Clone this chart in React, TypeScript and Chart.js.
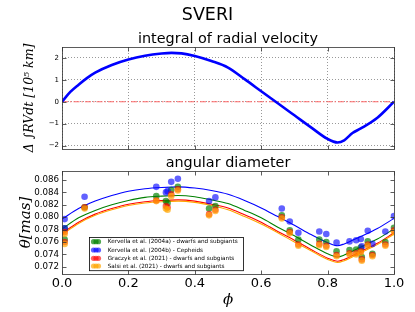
import React, { useEffect, useRef } from "react";
import { Chart, registerables } from "chart.js";
Chart.register(...registerables);

// ---- integral of radial velocity (top panel) ----
const integPhase = [0, 0.025, 0.05, 0.075, 0.1, 0.15, 0.2, 0.25, 0.3, 0.33, 0.36, 0.4, 0.45, 0.5, 0.55, 0.6, 0.65, 0.7, 0.75, 0.8, 0.83, 0.85, 0.875, 0.9, 0.95, 1.0];
const integValue = [0, 0.45, 0.78, 1.08, 1.33, 1.68, 1.93, 2.10, 2.20, 2.23, 2.21, 2.09, 1.86, 1.56, 1.03, 0.48, -0.07, -0.62, -1.17, -1.70, -1.86, -1.76, -1.43, -1.22, -0.73, 0];
const topYTicks = [-2, -1, 0, 1, 2];
const topYTickLabels = ["\u22122", "\u22121", "0", "1", "2"];
const phaseTicks = [0, 0.2, 0.4, 0.6, 0.8, 1.0];
const phaseTickLabels = ["0.0", "0.2", "0.4", "0.6", "0.8", "1.0"];

// ---- angular diameter (bottom panel) ----
const obsPhase = [0.008, 0.008, 0.068, 0.284, 0.313, 0.318, 0.329, 0.349, 0.443, 0.462, 0.662, 0.686, 0.712, 0.775, 0.796, 0.827, 0.866, 0.886, 0.900, 0.903, 0.921, 0.935, 0.974, 1.0];
const kervellaA = [0.0782, 0.0764, 0.0816, 0.0834, 0.0826, 0.0823, 0.0844, 0.0849, 0.0814, 0.0818, 0.0803, 0.0779, 0.0764, 0.0764, 0.0760, 0.0745, 0.0747, 0.0748, 0.0751, 0.0736, 0.0761, 0.0741, 0.0760, 0.0783];
const kervellaB = [0.0797, 0.0782, 0.0833, 0.0849, 0.0840, 0.0842, 0.0857, 0.0862, 0.0826, 0.0832, 0.0814, 0.0793, 0.0775, 0.0777, 0.0773, 0.0759, 0.0761, 0.0763, 0.0765, 0.0753, 0.0778, 0.0757, 0.0777, 0.0802];
const graczyk = [0.0776, 0.0760, 0.0816, 0.0827, 0.0818, 0.0816, 0.0837, 0.0845, 0.0805, 0.0812, 0.0800, 0.0776, 0.0756, 0.0757, 0.0754, 0.0739, 0.0742, 0.0742, 0.0745, 0.0732, 0.0756, 0.0739, 0.0756, 0.0779];
const salsi = [0.0773, 0.0757, 0.0814, 0.0826, 0.0814, 0.0812, 0.0834, 0.0843, 0.0803, 0.0810, 0.0798, 0.0774, 0.0754, 0.0755, 0.0752, 0.0737, 0.0740, 0.0740, 0.0743, 0.0730, 0.0754, 0.0737, 0.0754, 0.0776];

const fitPhase = [0, 0.05, 0.1, 0.15, 0.2, 0.25, 0.3, 0.35, 0.4, 0.45, 0.5, 0.55, 0.6, 0.65, 0.7, 0.75, 0.8, 0.83, 0.85, 0.9, 0.95, 1.0];
const fitKervellaB = [0.0797, 0.0814, 0.0826, 0.0835, 0.0842, 0.0846, 0.0848, 0.0849, 0.0847, 0.0843, 0.0837, 0.0827, 0.0815, 0.0801, 0.0787, 0.0772, 0.0759, 0.0754, 0.0757, 0.0769, 0.0782, 0.0798];
const fitKervellaA = [0.0781, 0.0799, 0.0811, 0.0820, 0.0827, 0.0832, 0.0834, 0.0835, 0.0833, 0.0828, 0.0822, 0.0811, 0.0799, 0.0784, 0.0770, 0.0755, 0.0741, 0.0736, 0.0739, 0.0752, 0.0765, 0.0781];
const fitGraczyk = [0.0774, 0.0792, 0.0805, 0.0814, 0.0821, 0.0825, 0.0827, 0.0828, 0.0826, 0.0821, 0.0815, 0.0804, 0.0792, 0.0777, 0.0763, 0.0748, 0.0734, 0.0729, 0.0732, 0.0745, 0.0758, 0.0775];
const fitSalsi = [0.0772, 0.0790, 0.0803, 0.0812, 0.0819, 0.0823, 0.0825, 0.0826, 0.0824, 0.0819, 0.0812, 0.0801, 0.0789, 0.0775, 0.0760, 0.0746, 0.0732, 0.0727, 0.0730, 0.0743, 0.0756, 0.0773];

const botYTicks = [0.072, 0.074, 0.076, 0.078, 0.08, 0.082, 0.084, 0.086];
const botYTickLabels = ["0.072", "0.074", "0.076", "0.078", "0.080", "0.082", "0.084", "0.086"];

const seriesNames = [
  "Kervella et al. (2004a) - dwarfs and subgiants",
  "Kervella et al. (2004b) - Cepheids",
  "Graczyk et al. (2021) - dwarfs and subgiants",
  "Salsi et al. (2021) - dwarfs and subgiants",
];
const pointColors = ["rgba(0,128,0,0.68)", "rgba(0,0,255,0.62)", "rgba(255,0,0,0.62)", "rgba(255,165,0,0.68)"];
const lineColors = ["#008000", "#0000ff", "#ff0000", "#ffa500"];

const SANS = '"DejaVu Sans", sans-serif';
const SERIF = '"DejaVu Serif", serif';

const toXY = (xs: number[], ys: number[]) => xs.map((x, i) => ({ x, y: ys[i] }));

const framePlugin = {
  id: "frame",
  afterDatasetsDraw(chart: any) {
    const { ctx, chartArea: a } = chart;
    ctx.save();
    ctx.strokeStyle = "#333";
    ctx.lineWidth = 0.8;
    const L = Math.round(a.left) + 0.5, R = Math.round(a.right) + 0.5;
    const T = Math.round(a.top) + 0.5, B = Math.round(a.bottom) + 0.5;
    ctx.strokeRect(L, T, R - L, B - T);
    const tl = 4;
    ctx.beginPath();
    chart.scales.x.ticks.forEach((t: any) => {
      const px = Math.round(chart.scales.x.getPixelForValue(t.value)) + 0.5;
      ctx.moveTo(px, B); ctx.lineTo(px, B - tl);
      ctx.moveTo(px, T); ctx.lineTo(px, T + tl);
    });
    chart.scales.y.ticks.forEach((t: any) => {
      const py = Math.round(chart.scales.y.getPixelForValue(t.value)) + 0.5;
      ctx.moveTo(L, py); ctx.lineTo(L + tl, py);
      ctx.moveTo(R, py); ctx.lineTo(R - tl, py);
    });
    ctx.stroke();
    ctx.restore();
  },
};

const makeTextPlugin = (items: { text: string; x: number; y: number; size: number }[]) => ({
  id: "texts",
  afterDraw(chart: any) {
    const { ctx } = chart;
    ctx.save();
    ctx.fillStyle = "#000";
    ctx.textAlign = "center";
    ctx.textBaseline = "alphabetic";
    items.forEach((it) => {
      ctx.font = `${it.size}px ${SANS}`;
      ctx.fillText(it.text, it.x, it.y);
    });
    ctx.restore();
  },
});

const legendPlugin = {
  id: "customLegend",
  afterDraw(chart: any) {
    const { ctx } = chart;
    ctx.save();
    const bx = 89.5, by = 81.5, bw = 154, bh = 33.2;
    ctx.fillStyle = "#fff";
    ctx.fillRect(bx, by, bw, bh);
    ctx.strokeStyle = "#000";
    ctx.lineWidth = 0.8;
    ctx.strokeRect(bx, by, bw, bh);
    const rows = [85.7, 94, 102.3, 110];
    seriesNames.forEach((name, i) => {
      const cy = rows[i];
      ctx.fillStyle = pointColors[i];
      [93.5, 96, 98.5].forEach((cx) => {
        ctx.beginPath();
        ctx.arc(cx, cy, 2.6, 0, Math.PI * 2);
        ctx.fill();
      });
      ctx.fillStyle = "#000";
      ctx.font = `5.7px ${SANS}`;
      ctx.textAlign = "left";
      ctx.textBaseline = "middle";
      ctx.fillText(name, 107.7, cy + 0.3);
    });
    ctx.restore();
  },
};

export default function App() {
  const topRef = useRef<HTMLCanvasElement>(null);
  const botRef = useRef<HTMLCanvasElement>(null);

  useEffect(() => {
    Chart.defaults.font.family = SANS;
    const top = new Chart(topRef.current!, {
      type: "scatter",
      data: {
        datasets: [
          {
            data: toXY(integPhase, integValue),
            showLine: true,
            borderColor: "#0000ff",
            borderWidth: 2.6,
            pointRadius: 0,
            cubicInterpolationMode: "monotone",
            order: 1,
          } as any,
          {
            data: [{ x: 0, y: 0 }, { x: 1, y: 0 }],
            showLine: true,
            borderColor: "#ff6a6a",
            borderWidth: 1.1,
            borderDash: [6, 2, 1.5, 2],
            pointRadius: 0,
            order: 2,
          } as any,
        ],
      },
      options: {
        responsive: false,
        animation: false,
        devicePixelRatio: 1,
        layout: { padding: { top: 47, right: 21, bottom: 6, left: 0 } },
        plugins: { legend: { display: false }, tooltip: { enabled: false }, title: { display: false } },
        scales: {
          x: {
            type: "linear",
            min: 0,
            max: 1,
            afterBuildTicks: (s: any) => { s.ticks = phaseTicks.map((v) => ({ value: v })); },
            afterFit: (s: any) => { s.height = 0; },
            ticks: { display: false },
            grid: { color: "rgba(0,0,0,0.5)", lineWidth: 0.8, drawTicks: false },
            border: { display: false, dash: [1, 2] },
          },
          y: {
            min: -2.15,
            max: 2.5,
            afterBuildTicks: (s: any) => { s.ticks = topYTicks.map((v) => ({ value: v })); },
            afterFit: (s: any) => { s.width = 62; },
            ticks: {
              font: { size: 7, family: SANS },
              color: "#000",
              padding: 3,
              callback: (v: any) => topYTickLabels[topYTicks.indexOf(v)],
            },
            grid: { color: "rgba(0,0,0,0.5)", lineWidth: 0.8, drawTicks: false },
            border: { display: false, dash: [1, 2] },
            title: {
              display: true,
              text: "\u0394 \u222BRVdt [10\u2075 km]",
              color: "#000",
              font: { family: SERIF, style: "italic", size: 12.5, lineHeight: 1 },
              padding: { top: 23.7, bottom: 0 },
            },
          },
        },
      },
      plugins: [
        framePlugin,
        makeTextPlugin([
          { text: "SVERI", x: 207.5, y: 20, size: 17.5 },
          { text: "integral of radial velocity", x: 228, y: 43, size: 14.4 },
        ]),
      ],
    });

    const pts = [kervellaA, kervellaB, graczyk, salsi];
    const fits = [fitKervellaA, fitKervellaB, fitGraczyk, fitSalsi];
    const datasets: any[] = [];
    pts.forEach((p, i) => {
      datasets.push({
        data: toXY(obsPhase, p),
        pointRadius: 3.3,
        pointBackgroundColor: pointColors[i],
        pointBorderWidth: 0,
        borderColor: pointColors[i],
        showLine: false,
        order: 8 - i,
      });
    });
    fits.forEach((f, i) => {
      datasets.push({
        data: toXY(fitPhase, f),
        showLine: true,
        borderColor: lineColors[i],
        borderWidth: 1.1,
        pointRadius: 0,
        cubicInterpolationMode: "monotone",
        order: 20 - i,
      });
    });

    const bot = new Chart(botRef.current!, {
      type: "scatter",
      data: { datasets },
      options: {
        responsive: false,
        animation: false,
        devicePixelRatio: 1,
        layout: { padding: { top: 14.7, right: 21, bottom: 0, left: 0 } },
        plugins: { legend: { display: false }, tooltip: { enabled: false }, title: { display: false } },
        scales: {
          x: {
            type: "linear",
            min: 0,
            max: 1,
            afterBuildTicks: (s: any) => { s.ticks = phaseTicks.map((v) => ({ value: v })); },
            afterFit: (s: any) => { s.height = 37.7; },
            ticks: {
              font: { size: 13, family: SANS },
              color: "#000",
              padding: 2,
              autoSkip: false,
              maxRotation: 0,
              callback: (v: any) => phaseTickLabels[phaseTicks.indexOf(v)],
            },
            grid: { display: false, drawTicks: false },
            border: { display: false },
            title: {
              display: true,
              text: "\u03D5",
              color: "#000",
              font: { family: SERIF, style: "italic", size: 15, lineHeight: 1 },
              padding: { top: 0, bottom: 4.5 },
            },
          },
          y: {
            min: 0.0708,
            max: 0.0875,
            afterBuildTicks: (s: any) => { s.ticks = botYTicks.map((v) => ({ value: v })); },
            afterFit: (s: any) => { s.width = 62; },
            ticks: {
              font: { size: 8.7, family: SANS },
              color: "#000",
              padding: 3,
              autoSkip: false,
              callback: (v: any) => botYTickLabels[botYTicks.indexOf(v)],
            },
            grid: { display: false, drawTicks: false },
            border: { display: false },
            title: {
              display: true,
              text: "\u03B8[mas]",
              color: "#000",
              font: { family: SERIF, style: "italic", size: 15, lineHeight: 1 },
              padding: { top: 18.7, bottom: 0 },
            },
          },
        },
      },
      plugins: [framePlugin, legendPlugin, makeTextPlugin([{ text: "angular diameter", x: 228, y: 11.3, size: 14.4 }])],
    });

    return () => {
      top.destroy();
      bot.destroy();
    };
  }, []);

  return (
    <div style={{ position: "fixed", left: 0, top: 0, width: 415, height: 312, background: "#fff" }}>
      <canvas ref={topRef} width={415} height={156} style={{ position: "absolute", left: 0, top: 0, width: 415, height: 156 }} />
      <canvas ref={botRef} width={415} height={156} style={{ position: "absolute", left: 0, top: 156, width: 415, height: 156 }} />
    </div>
  );
}
